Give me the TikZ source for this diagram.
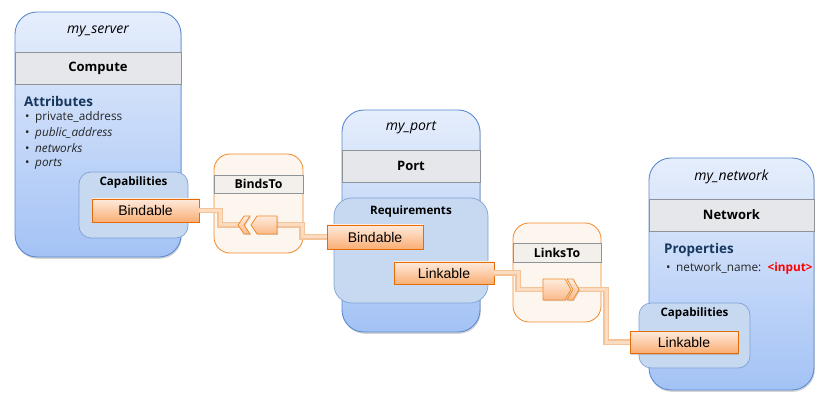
\documentclass[tikz,border=0pt]{standalone}
\usepackage{fontspec}
\setmainfont{Open Sans}
\newfontfamily\arialfont{Liberation Sans}
\usetikzlibrary{shadows}

\definecolor{tplborder}{HTML}{5B8BD0}
\definecolor{tpltop}{HTML}{E6EEFC}
\definecolor{tplbottom}{HTML}{A3C2F5}
\definecolor{bandfill}{HTML}{E5E7EA}
\definecolor{bandborder}{HTML}{8E9399}
\definecolor{capfill}{HTML}{C6D9F1}
\definecolor{capborder}{HTML}{7FA2D6}
\definecolor{orgtop}{HTML}{FEEBDD}
\definecolor{orgbottom}{HTML}{FAAE74}
\definecolor{orgborder}{HTML}{E46C0A}
\definecolor{relfill}{HTML}{FDF6EE}
\definecolor{relborder}{HTML}{F08A2A}
\definecolor{relband}{HTML}{F3F0EB}
\definecolor{connout}{HTML}{F5C39A}
\definecolor{connin}{HTML}{FBDCC0}
\definecolor{headtext}{HTML}{17375E}
\definecolor{itemtext}{HTML}{262626}

\tikzset{
  template/.style={draw=tplborder, line width=0.9pt, rounded corners=22pt,
    top color=tpltop, bottom color=tplbottom, inner sep=0pt,
    drop shadow={shadow xshift=0.8pt, shadow yshift=-1.8pt, opacity=0.35}},
  band/.style={draw=bandborder, fill=bandfill, line width=0.6pt, inner sep=0pt,
    minimum height=32pt, font=\fontsize{13}{15}\selectfont\bfseries},
  title/.style={font=\fontsize{14}{16}\selectfont\itshape},
  capbox/.style={draw=capborder, fill=capfill, line width=0.7pt,
    rounded corners=12pt, inner sep=0pt},
  caplabel/.style={font=\fontsize{11.6}{14}\selectfont\bfseries},
  heading/.style={anchor=west, inner sep=0pt, text=headtext,
    font=\fontsize{13.4}{15}\selectfont\bfseries},
  attr/.style={anchor=west, inner sep=0pt, text=itemtext,
    font=\fontsize{11.8}{14}\selectfont},
  endpoint/.style={draw=orgborder, line width=0.8pt, top color=orgtop,
    bottom color=orgbottom, inner sep=0pt,
    font=\arialfont\fontsize{14}{16}\selectfont,
    drop shadow={shadow xshift=1pt, shadow yshift=-1.5pt, opacity=0.35}},
  relation/.style={draw=relborder, fill=relfill, line width=0.8pt,
    rounded corners=16pt, inner sep=0pt},
  relband/.style={draw=bandborder, fill=relband, line width=0.6pt, inner sep=0pt,
    font=\fontsize{12.3}{14}\selectfont\bfseries},
  conn/.style={draw=connout, line width=1.3pt, double=connin,
    double distance=3pt},
  marker/.style={draw=relborder, line width=0.7pt, top color=orgtop,
    bottom color=orgbottom!80!orgtop,
    drop shadow={shadow xshift=1pt, shadow yshift=-1pt, opacity=0.3}}
}
\newcommand{\bul}{\makebox[10pt][l]{\textbullet}}

\begin{document}
\begin{tikzpicture}[x=1pt, y=-1pt]
\useasboundingbox (0,0) rectangle (825,406);

% node templates
\node[template, minimum width=166pt, minimum height=245pt] (server) at (98,134.5) {};
\node[template, minimum width=138pt, minimum height=222pt] (port) at (411,221) {};
\node[template, minimum width=165pt, minimum height=232pt] (network) at (731.5,274) {};

\node[band, minimum width=166pt] (servertype) at (98,68) {Compute};
\node[band, minimum width=138pt] (porttype) at (411,166) {Port};
\node[band, minimum width=165pt] (networktype) at (731.5,215) {Network};

\node[title] (servername) at (98,31) {my\_server};
\node[title] (portname) at (411,128) {my\_port};
\node[title] (networkname) at (731.5,177) {my\_network};

% attributes and properties
\node[heading] (attrs) at (24,101) {Attributes};
\node[attr] (attr1) at (25,117) {\bul private\_address};
\node[attr] (attr2) at (25,133) {\bul\textit{public\_address}};
\node[attr] (attr3) at (25,148.5) {\bul\textit{networks}};
\node[attr] (attr4) at (25,164) {\bul\textit{ports}};

\node[heading] (props) at (664,250.5) {Properties};
\node[attr] (prop1) at (666,268) {\bul network\_name:\ \ \textcolor{red}{\bfseries <input>}};

% capabilities and requirements
\node[capbox, minimum width=109pt, minimum height=66pt] (servercaps) at (133.5,205) {};
\node[capbox, rounded corners=18pt, minimum width=154pt, minimum height=105pt] (portreqs) at (411,250.5) {};
\node[capbox, minimum width=111pt, minimum height=65pt] (networkcaps) at (694.5,335.5) {};
\node[caplabel] at (133.5,182.5) {Capabilities};
\node[caplabel] at (411,211.5) {Requirements};
\node[caplabel] at (694.5,313) {Capabilities};

% relationships
\node[relation, minimum width=89pt, minimum height=99pt] (bindsto) at (258.5,203.5) {};
\node[relband, minimum width=89pt, minimum height=18pt] at (258.5,184) {BindsTo};
\node[relation, minimum width=88pt, minimum height=99pt] (linksto) at (557,272.5) {};
\node[relband, minimum width=88pt, minimum height=19pt] at (557,252.5) {LinksTo};

% endpoints
\node[endpoint, minimum width=107pt, minimum height=23pt] (serverbind) at (145.5,210.5) {Bindable};
\node[endpoint, minimum width=96pt, minimum height=24pt] (portbind) at (375,237) {Bindable};
\node[endpoint, minimum width=100pt, minimum height=22pt] (portlink) at (444,273) {Linkable};
\node[endpoint, minimum width=108pt, minimum height=22pt] (networklink) at (684,342) {Linkable};

\coordinate (bindtip) at (240,225);
\coordinate (bindtail) at (277,225);
\coordinate (linktip) at (543,289.5);
\coordinate (linktail) at (578,289.5);

\draw[conn] (serverbind.east) -| (220,218) |- (bindtip);
\draw[conn] (bindtail) -| (302,231) |- (portbind.west);
\draw[conn] (portlink.east) -| (518,281) |- (linktip);
\draw[conn] (linktail) -| (606,316) |- (networklink.west);

% markers
\path[marker] (277,216) -- (257,216) -- (251,225) -- (257,234) -- (277,234) -- cycle;
\path[marker] (244,216) -- (250,216) -- (244,225) -- (250,234) -- (244,234) -- (238,225) -- cycle;
\path[marker] (543,279) -- (565,279) -- (571,289.5) -- (565,300) -- (543,300) -- cycle;
\path[marker] (567,279) -- (573,279) -- (579,289.5) -- (573,300) -- (567,300) -- (573,289.5) -- cycle;

\end{tikzpicture}
\end{document}
